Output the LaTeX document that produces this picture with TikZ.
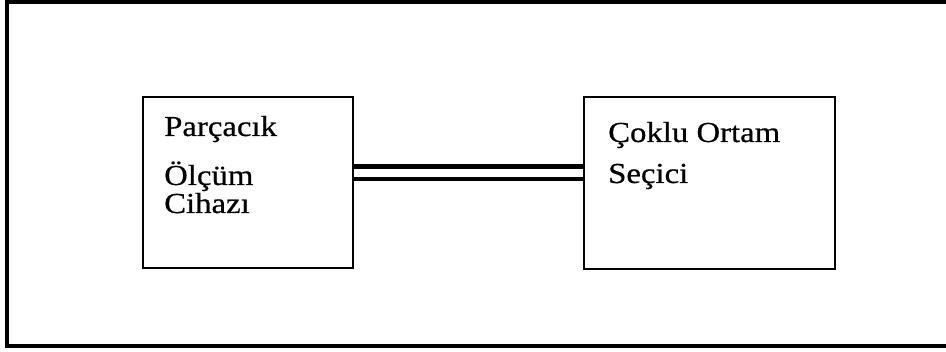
\documentclass[tikz,border=0pt]{standalone}
\usepackage{fontspec}
\setmainfont{Liberation Serif}
\newfontfamily\tf[FakeStretch=1.13,FakeBold=0.6]{Liberation Serif}
\tikzset{
  frame/.style={line width=4pt},
  boxst/.style={draw, line width=2.6pt, rectangle, inner sep=0pt},
  lbl/.style={inner sep=0pt, anchor=base west, font=\tf\fontsize{29}{30}\selectfont},
  link/.style={line width=4.6pt}
}
\begin{document}
\begin{tikzpicture}[x=1pt,y=-1pt]
\useasboundingbox (0,0) rectangle (946,352);
\draw[frame] (946,2.5) -- (7,2.5) -- (7,346) -- (946,346);
\node[boxst, minimum width=210pt, minimum height=171pt] (b1) at (248,182.5) {};
\node[boxst, minimum width=251pt, minimum height=172pt] (b2) at (709.5,183) {};
\node[lbl] (t1) at (164,136) {Parçacık};
\node[lbl] (t2) at (164,185) {Ölçüm};
\node[lbl] (t3) at (164,213) {Cihazı};
\node[lbl] (t4) at (608,142) {Çoklu Ortam};
\node[lbl] (t5) at (608,183) {Seçici};
\draw[link] (b1.east |- 0,166.5) -- (b2.west |- 0,166.5);
\draw[link] (b1.east |- 0,179) -- (b2.west |- 0,179);
\end{tikzpicture}
\end{document}
